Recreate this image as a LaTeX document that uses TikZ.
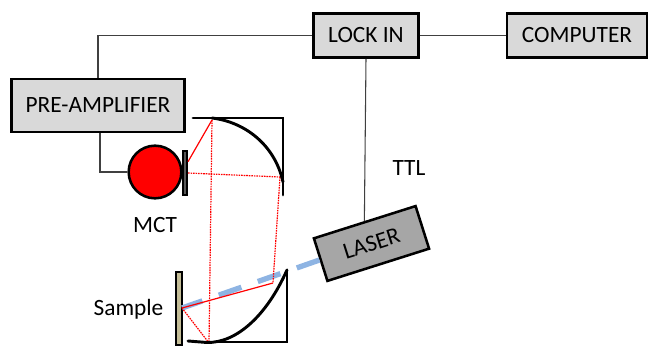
\documentclass[tikz,border=0pt]{standalone}
\usepackage{fontspec}
\setmainfont{Carlito}
\usepackage{xcolor}
\definecolor{boxgray}{HTML}{D9D9D9}
\definecolor{lasergray}{HTML}{A6A6A6}
\definecolor{sampletan}{HTML}{C4BD97}
\definecolor{beamblue}{HTML}{8EB4E3}
\tikzset{
  instbox/.style={draw=black,line width=1.9pt,fill=boxgray,inner sep=0pt,font=\fontsize{17.5}{20}\selectfont},
  wire/.style={draw=black!75,line width=0.8pt},
  mirror/.style={line width=2.2pt,line cap=round,line join=miter},
  raysolid/.style={red,line width=0.9pt},
  raydot/.style={red,line width=0.9pt,dash pattern=on 1.2pt off 0.7pt},
  caption/.style={font=\fontsize{17.5}{20}\selectfont,inner sep=0pt}
}
\begin{document}
\begin{tikzpicture}[x=0.75pt,y=-0.75pt]
    \useasboundingbox (0,0) rectangle (651,346);
    % --- instruments
    \node[instbox,minimum width=78.5pt,minimum height=33pt] (lockin) at (366,35.5) {LOCK IN};
    \node[instbox,minimum width=105pt,minimum height=33pt] (computer) at (577,35.5) {COMPUTER};
    \node[instbox,minimum width=129.5pt,minimum height=39.5pt] (preamp) at (98,105.5) {PRE-AMPLIFIER};
    \node[instbox,fill=lasergray,rotate=17.6,minimum width=80pt,minimum height=33.5pt] (laser) at (371.5,243.5) {LASER};
    \node[circle,draw=black,line width=1.9pt,fill=red,minimum size=39.5pt,inner sep=0pt] (mct) at (155,172) {};
    \node[draw=black,line width=1.5pt,fill=black!65,minimum width=3pt,minimum height=33.5pt,inner sep=0pt] (window) at (185,173) {};
    \node[draw=black,line width=1.5pt,fill=sampletan,minimum width=5pt,minimum height=54pt,inner sep=0pt] (sample) at (179,308.5) {};
    % --- labels
    \node[caption] (mctlabel) at (155,225) {MCT};
    \node[caption] (ttl) at (409,168) {TTL};
    \node[caption] (samplelabel) at (128.5,309) {Sample};
    % --- wiring
    \draw[wire] (lockin.west) -| (preamp.north);
    \draw[wire] (lockin.east) -- (computer.west);
    \draw[wire] (lockin.south) -- (laser.north);
    \draw[wire] ([xshift=1.5]preamp.south) |- (mct.west);
    % --- beam from the laser to the sample
    \coordinate (spot) at (182,308);
    \draw[beamblue,line width=4pt,dash pattern=on 18pt off 13pt] (laser.west) -- (spot);
    % --- rays
    \coordinate (topA) at (212,120);
    \coordinate (topB) at (280,177);
    \coordinate (botA) at (273,283);
    \coordinate (botB) at (209,343);
    \draw[raysolid] (window.north east) ++(0,12) -- (topA);
    \draw[raydot] (topA) -- (botB);
    \draw[raydot] (window.east) -- (topB);
    \draw[raydot] (topB) -- (botA);
    \draw[raysolid] (botA) -- (spot);
    \draw[raydot] (spot) -- (botB);
    % --- mirrors
    \draw[mirror] (193,118) -- (283,118) -- (283,195);
    \draw[mirror] (212,118) .. controls (245,122) and (275,145) .. (283,182);
    \draw[mirror] (287,270) -- (287,342) -- (205,342);
    \draw[mirror] (287,270) .. controls (267,315) and (237,343) .. (207,342.5) -- (188,341);
\end{tikzpicture}
\end{document}
